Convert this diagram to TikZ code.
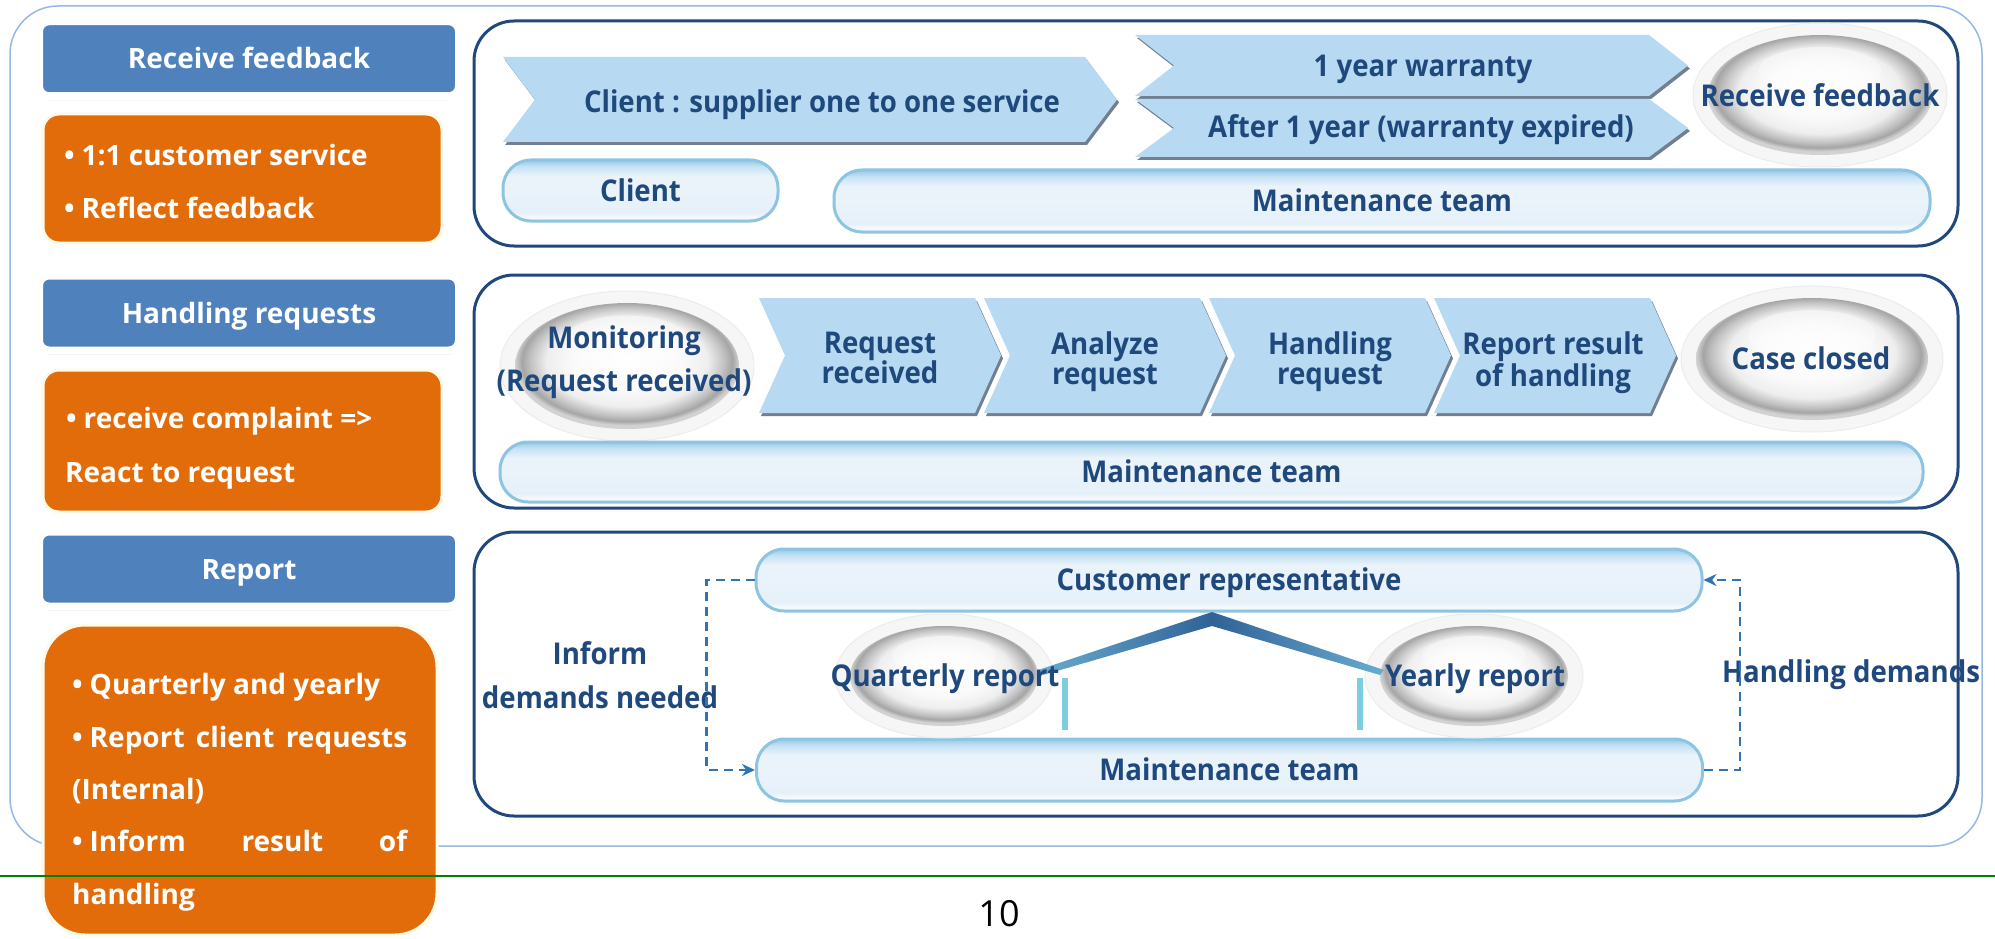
\documentclass[tikz,border=0pt]{standalone}
\usepackage{fontspec}
\setmainfont{Open Sans}
\newfontfamily\cnd[FakeStretch=0.92]{Open Sans}
\usetikzlibrary{arrows.meta,shadows}
\definecolor{tblue}{RGB}{31,73,125}
\definecolor{frameblue}{RGB}{33,72,124}
\definecolor{outerblue}{RGB}{149,184,229}
\definecolor{hdrblue}{RGB}{79,129,189}
\definecolor{orng}{RGB}{227,108,10}
\definecolor{oglow}{RGB}{252,250,232}
\definecolor{chevfill}{RGB}{183,218,242}
\definecolor{chevshadow}{RGB}{112,128,146}
\definecolor{pillborder}{RGB}{140,196,226}
\definecolor{pilltop}{RGB}{150,201,232}
\definecolor{pilltop2}{RGB}{195,225,243}
\definecolor{pillmid}{RGB}{234,243,250}
\definecolor{pillbot}{RGB}{229,240,249}
\definecolor{pillwhite}{RGB}{246,250,253}
\definecolor{dashblue}{RGB}{46,117,182}
\definecolor{vline}{RGB}{125,205,225}
\definecolor{roofdark}{RGB}{48,98,152}
\definecolor{rooflight}{RGB}{105,172,207}
\definecolor{lensa}{RGB}{250,250,250}
\definecolor{lensb}{RGB}{238,238,238}
\definecolor{lensring}{RGB}{195,195,195}
\definecolor{lensdark}{RGB}{165,165,165}
\definecolor{lensout}{RGB}{210,210,210}
\definecolor{halo}{RGB}{246,246,246}
\definecolor{haloedge}{RGB}{236,236,236}
\definecolor{pagegreen}{RGB}{0,128,0}
\pgfdeclareverticalshading{pillshade}{100bp}{color(0bp)=(pillbot); color(25bp)=(pillbot); color(28bp)=(pillwhite); color(32bp)=(pillbot); color(50bp)=(pillmid); color(62bp)=(pillmid); color(70bp)=(pilltop2); color(75bp)=(pilltop); color(100bp)=(pilltop)}
\pgfdeclareradialshading{lensshade}{\pgfpoint{0bp}{3bp}}{color(0bp)=(white); color(12bp)=(lensa); color(18bp)=(lensb); color(21.5bp)=(lensring); color(23.5bp)=(lensdark); color(25bp)=(lensout); color(50bp)=(lensout)}
\newcommand{\chev}[5]{%
  \fill[chevshadow] (#1+2,#3+3) -- (#2-#5+2,#3+3) -- (#2+2,{(#3+#4)/2+3}) -- (#2-#5+2,#4+3) -- (#1+2,#4+3) -- (#1+#5+2,{(#3+#4)/2+3}) -- cycle;
  \fill[chevfill] (#1,#3) -- (#2-#5,#3) -- (#2,{(#3+#4)/2}) -- (#2-#5,#4) -- (#1,#4) -- (#1+#5,{(#3+#4)/2}) -- cycle;}
\newcommand{\lens}[4]{%
  \path[fill=halo, draw=haloedge, line width=1pt] (#1,#2) ellipse [x radius={#3+15}, y radius={#4+12}];
  \shade[shading=lensshade] (#1,#2) ellipse [x radius=#3, y radius=#4];
  \fill[white, opacity=0.35] (#1,{#2-#4*0.4}) ellipse [x radius={#3*0.55}, y radius={#4*0.4}];}
\begin{document}
\begin{tikzpicture}[x=1pt,y=-1pt,
  panelframe/.style={draw=frameblue, line width=3pt, rounded corners=40pt},
  hdr/.style={fill=hdrblue, draw=white, line width=8pt, rounded corners=10pt,
    minimum width=420pt, minimum height=75pt, inner sep=0pt,
    text=white, font=\bfseries\fontsize{28}{28}\selectfont, text height=20pt, text depth=0pt,
    drop shadow={shadow xshift=0pt, shadow yshift=-4pt, opacity=0.3, fill=black!60}},
  obox/.style={fill=orng, draw=oglow, line width=3pt},
  ltxt/.style={anchor=base west, inner sep=0pt, text=white, font=\bfseries\fontsize{28}{28}\selectfont},
  ptxt/.style={inner sep=0pt, text=tblue, font=\cnd\bfseries\fontsize{30}{30}\selectfont},
  one/.style={text height=21.4pt, text depth=0pt},
  two/.style={align=center, anchor=north},
  pill/.style={ptxt, one, draw=pillborder, line width=3pt, rounded corners=28pt, shading=pillshade},
  dashc/.style={draw=dashblue, line width=2.5pt, dash pattern=on 9pt off 6pt, -{Stealth[length=13pt,width=12pt]}},
  roofl/.style={left color=rooflight, right color=roofdark},
  roofr/.style={left color=roofdark, right color=rooflight},
  vbar/.style={draw=vline, line width=6pt}]
\useasboundingbox (0,0) rectangle (1995,939);
\fill[white] (0,0) rectangle (1995,939);

% outer frame and panels
\draw[draw=outerblue, line width=1.5pt, rounded corners=48pt] (10,6) rectangle (1982,846);
\draw[panelframe] (474,21) rectangle (1958,246);
\draw[panelframe] (474,275) rectangle (1958,508);
\draw[panelframe] (474,532) rectangle (1958,816);

% left column
\node[hdr] (h1) at (249,58.75) {Receive feedback};
\node[hdr] (h2) at (249,313) {Handling requests};
\node[hdr] (h3) at (249,569) {Report};
\path[obox, rounded corners=16pt] (43,114) rectangle (442,243);
\path[obox, rounded corners=16pt] (43,370) rectangle (442,512);
\path[obox, rounded corners=42pt] (43,625) rectangle (437,935);
\node[ltxt] (o1a) at (64,166) {•\kern7pt 1:1 customer service};
\node[ltxt] (o1b) at (64,218) {•\kern7pt Reflect feedback};
\node[ltxt] (o2a) at (66,428) {•\kern7pt receive complaint =>};
\node[ltxt] (o2b) at (65,482) {React to request};
\node[ltxt] (o3a) at (72,694) {•\kern7pt Quarterly and yearly};
\node[ltxt] (o3b) at (72,747) {\makebox[335pt][s]{•\kern7pt Report client requests}};
\node[ltxt] (o3c) at (72,799) {(Internal)};
\node[ltxt] (o3d) at (72,851) {\makebox[335pt][s]{•\kern7pt Inform result of}};
\node[ltxt] (o3e) at (72,904) {handling};

% panel 1
\chev{503}{1117}{57}{142}{32}
\chev{1135}{1688}{35}{96}{39}
\chev{1135}{1688}{99}{157}{39}
\lens{1820}{95}{112}{60}
\node[ptxt, one] (c0) at (822,102) {Client : supplier one to one service};
\node[ptxt, one] (w1) at (1423,66) {1 year warranty};
\node[ptxt, one] (w2) at (1421,127) {After 1 year (warranty expired)};
\node[ptxt, one] (rf) at (1820,96) {Receive feedback};
\node[pill, minimum width=275pt, minimum height=61pt] (client) at (640.5,190.5) {Client};
\node[pill, minimum width=1096pt, minimum height=62pt] (mt1) at (1382,201) {Maintenance team};

% panel 2
\lens{627}{366}{112}{63}
\chev{759}{1001}{298}{413}{26}
\chev{984}{1226}{298}{413}{26}
\chev{1209}{1451}{298}{413}{26}
\chev{1434}{1676}{298}{413}{26}
\lens{1812}{359}{116}{61}
\node[ptxt, two, font=\cnd\bfseries\fontsize{30}{43}\selectfont] (mon) at (624,326) {Monitoring\\(Request received)};
\node[ptxt, two] (s1) at (880,332) {Request\\received};
\node[ptxt, two] (s2) at (1105,332) {Analyze\\request};
\node[ptxt, two] (s3) at (1330,332) {Handling\\request};
\node[ptxt, two] (s4) at (1553,332) {Report result\\of handling};
\node[ptxt, one] (cc) at (1811,359) {Case closed};
\node[pill, minimum width=1423pt, minimum height=60pt] (mt2) at (1211.5,472) {Maintenance team};

% panel 3
\node[pill, minimum width=946pt, minimum height=62pt] (cr) at (1229,580) {Customer representative};
\node[pill, minimum width=946pt, minimum height=62pt] (mt3) at (1229.5,770) {Maintenance team};
\lens{944}{676}{94}{50}
\lens{1474}{676}{94}{50}
\shade[roofl] (1038,670) -- (1212,612) -- (1212,626) -- (1043,675) -- cycle;
\shade[roofr] (1212,612) -- (1384,670) -- (1380,675) -- (1212,626) -- cycle;
\draw[vbar] (1065,678) -- (1065,730);
\draw[vbar] (1360,678) -- (1360,730);
\node[ptxt, one] (qr) at (945,676) {Quarterly report};
\node[ptxt, one] (yr) at (1475,676) {Yearly report};
\node[ptxt, two, font=\cnd\bfseries\fontsize{30}{44}\selectfont] (inf) at (600,641) {Inform\\demands needed};
\node[ptxt, one] (hd) at (1851,672) {Handling demands};
\draw[dashc] (cr.west) -- ++(-48,0) |- (mt3.west);
\draw[dashc] (mt3.east) -- ++(36,0) |- (cr.east);

% page footer
\draw[draw=pagegreen, line width=2pt] (0,876) -- (1995,876);
\node[anchor=base, inner sep=0pt, font=\fontsize{36}{36}\selectfont] (pg) at (999,926) {10};
\end{tikzpicture}
\end{document}
